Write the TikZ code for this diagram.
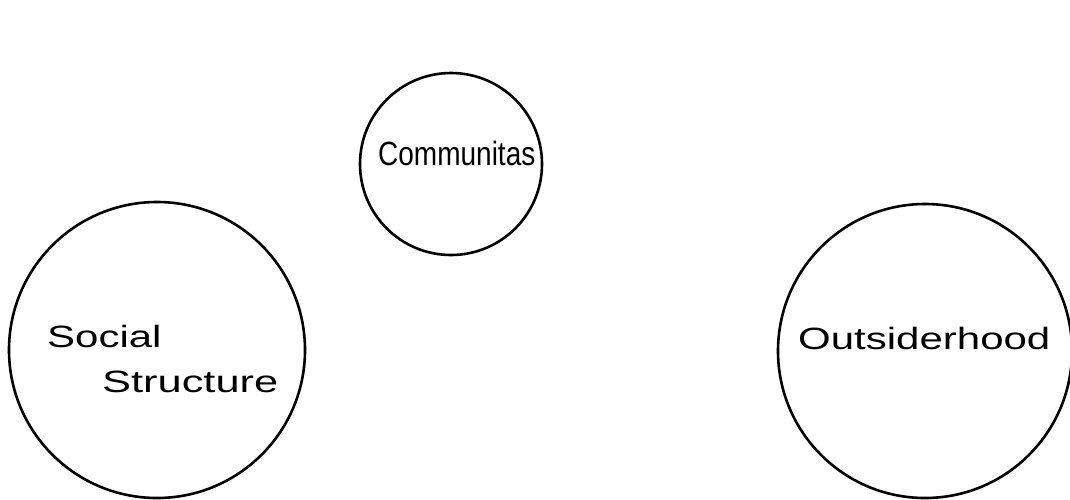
\documentclass[tikz,border=0pt]{standalone}
\usepackage{fontspec}
\setmainfont{Liberation Sans}
\begin{document}
\begin{tikzpicture}[x=1pt,y=-1pt,
  ring/.style={circle,draw,line width=2.6pt,inner sep=0pt},
  lbl/.style={font=\fontsize{28}{30}\selectfont,inner sep=0pt,anchor=base west}]
\useasboundingbox (0,0) rectangle (1070,499);
\node[ring,minimum size=182pt] (comm) at (451,164) {};
\node[ring,minimum size=296pt] (soc) at (157,350) {};
\node[ring,minimum size=294pt] (out) at (925,351) {};
\node[lbl] (commt) at (378,165) {\scalebox{1}[1.2]{Communitas}};
\node[lbl] (soct1) at (47,347) {\scalebox{1.5}[1.1]{Social}};
\node[lbl] (soct2) at (102,392) {\scalebox{1.55}[1.1]{Structure}};
\node[lbl] (outt) at (798,349) {\scalebox{1.5}[1.1]{Outsiderhood}};
\end{tikzpicture}
\end{document}
